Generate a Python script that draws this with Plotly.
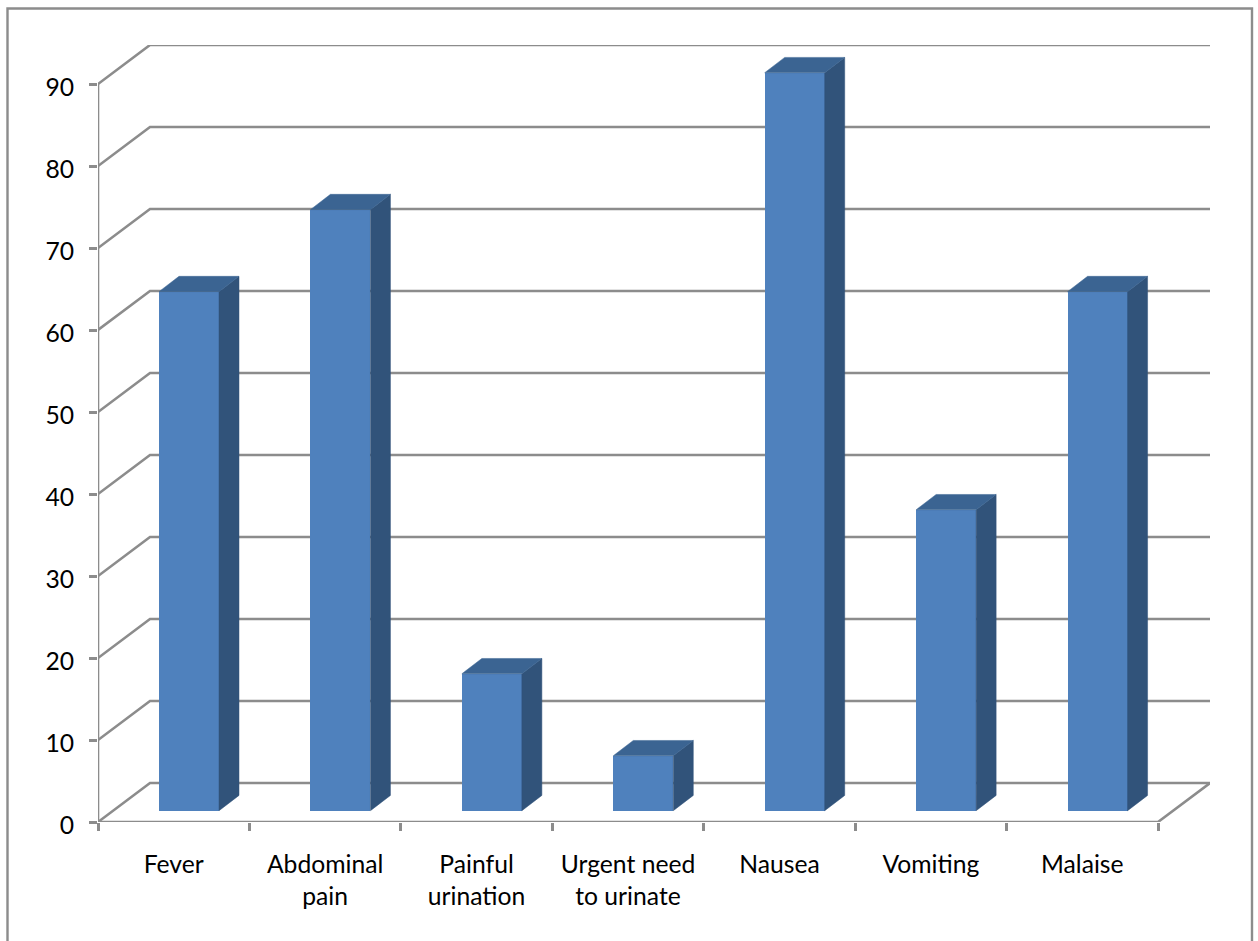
import plotly.graph_objects as go

# Share of patients reporting each symptom
categories = ["Fever", "Abdominal<br>pain", "Painful<br>urination", "Urgent need<br>to urinate",
              "Nausea", "Vomiting", "Malaise"]
values = [63.3, 73.3, 16.7, 6.7, 90, 36.7, 63.3]
y_ticks = [0, 10, 20, 30, 40, 50, 60, 70, 80, 90]

# Pixel frame of the plot
WIDTH, HEIGHT = 1258, 941
LEFT, RIGHT, TOP, BOTTOM = 98, 1210, 45, 822
PX_X = (1158 - 98) / 7       # pixels per category
PX_Y = (822 - 84) / 90       # pixels per value unit

# Oblique projection offsets, in axis units
WALL_DX, WALL_DY = 52 / PX_X, 39 / PX_Y
BAR_LEFT, BAR_WIDTH = 61 / PX_X, 60 / PX_X
BAR_BASE = 11.3 / PX_Y
BAR_DX, BAR_DY = 20 / PX_X, 15.3 / PX_Y

GRID = "#8C8C8C"
FRONT, SIDE, CAP = "#4F81BD", "#31537A", "#3B6492"
FONT = dict(family="Lato, Carlito, sans-serif", size=24.7, color="#000000")

x_range = [0, (RIGHT - LEFT) / PX_X]
y_range = [0, (BOTTOM - TOP) / PX_Y]
n = len(categories)

fig = go.Figure()


def wall_line(xs, ys):
    fig.add_trace(go.Scatter(x=xs, y=ys, mode="lines", cliponaxis=False, hoverinfo="skip",
                             line=dict(color=GRID, width=2.6), showlegend=False))


# Gridlines running over the side wall and back wall
for v in y_ticks:
    wall_line([0, WALL_DX, n + WALL_DX], [v, v + WALL_DY, v + WALL_DY])

# Front edges of the floor and the value axis
wall_line([0, n, n + WALL_DX], [0, 0, WALL_DY])
wall_line([0, 0], [0, y_ticks[-1]])

# Front faces of the columns
fig.add_trace(go.Bar(
    x=[i + BAR_LEFT for i in range(n)], y=values, base=BAR_BASE, width=BAR_WIDTH, offset=0,
    marker=dict(color=FRONT, line=dict(width=0)),
    xaxis="x2", yaxis="y2", showlegend=False, hoverinfo="y",
))


def face(xs, ys, color):
    fig.add_trace(go.Scatter(x=xs, y=ys, mode="lines", fill="toself", fillcolor=color,
                             line=dict(color=color, width=0.5), xaxis="x2", yaxis="y2",
                             hoverinfo="skip", showlegend=False))


# Side and top faces derived from each column's value
for i, v in enumerate(values):
    x0 = i + BAR_LEFT
    x1 = x0 + BAR_WIDTH
    top = BAR_BASE + v
    face([x1, x1 + BAR_DX, x1 + BAR_DX, x1, x1],
         [BAR_BASE, BAR_BASE + BAR_DY, top + BAR_DY, top, BAR_BASE], SIDE)
    face([x0, x1, x1 + BAR_DX, x0 + BAR_DX, x0],
         [top, top, top + BAR_DY, top + BAR_DY, top], CAP)

fig.update_layout(
    width=WIDTH, height=HEIGHT, autosize=False,
    margin=dict(l=LEFT, r=WIDTH - RIGHT, t=TOP, b=HEIGHT - BOTTOM),
    paper_bgcolor="white", plot_bgcolor="white", font=FONT, bargap=0,
    xaxis=dict(range=x_range, tickmode="array", tickvals=list(range(n + 1)), showticklabels=False,
               ticks="outside", ticklen=8, tickwidth=2.6, tickcolor=GRID,
               showgrid=False, zeroline=False, showline=False),
    yaxis=dict(range=y_range, tickmode="array", tickvals=y_ticks, ticks="outside", ticklen=8,
               tickwidth=2.6, tickcolor=GRID, tickfont=FONT, ticklabelstandoff=10,
               ticklabelshift=3,
               showgrid=False, zeroline=False, showline=False),
    xaxis2=dict(range=x_range, overlaying="x", anchor="y2", side="bottom", tickmode="array",
                tickvals=[i + 0.5 for i in range(n)], ticktext=categories, ticks="",
                tickfont=FONT, tickangle=0, ticklabelstandoff=25,
                showgrid=False, zeroline=False, showline=False),
    yaxis2=dict(range=y_range, overlaying="y", anchor="x2", showticklabels=False, ticks="",
                showgrid=False, zeroline=False, showline=False),
)

# Chart frame: left, top and right edges, open past the bottom of the page
plot_w, plot_h = RIGHT - LEFT, BOTTOM - TOP
fx = lambda px: (px - LEFT) / plot_w
fy = lambda px: (BOTTOM - px) / plot_h
fig.add_shape(type="path", xref="paper", yref="paper", layer="below",
              path=f"M {fx(7.5)} {fy(960)} L {fx(7.5)} {fy(8.5)} L {fx(1252)} {fy(8.5)} L {fx(1252)} {fy(960)}",
              line=dict(color=GRID, width=2.4))

fig.write_html("out.html", config=dict(displayModeBar=False))
